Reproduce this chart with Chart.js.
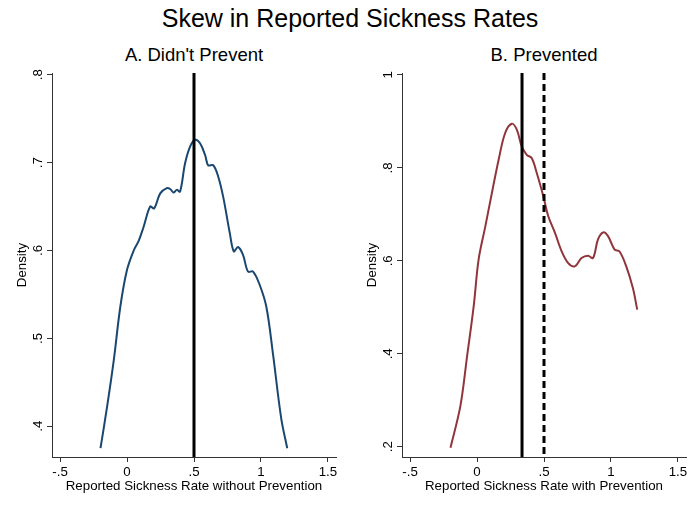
<!DOCTYPE html>
<html>
<head>
<meta charset="utf-8">
<script src="https://cdn.jsdelivr.net/npm/chart.js@4"></script>
<style>
  body { margin: 0; background: #fff; font-family: "Liberation Sans", Arial, sans-serif; }
  #wrap { position: relative; width: 700px; height: 509px; }
  .box { position: absolute; top: 0; width: 350px; height: 509px; }
  .ttl { position: absolute; white-space: nowrap; transform: translateX(-50%); color: #000; }
</style>
</head>
<body>
<div id="wrap">
  <div class="ttl" style="left:350px; top:4px; font-size:25px;">Skew in Reported Sickness Rates</div>
  <div class="ttl" style="left:194px; top:44px; font-size:18.5px;">A. Didn't Prevent</div>
  <div class="ttl" style="left:544px; top:44px; font-size:18.5px;">B. Prevented</div>
  <div class="box" style="left:0"><canvas id="chartA"></canvas></div>
  <div class="box" style="left:350px"><canvas id="chartB"></canvas></div>
</div>
<script>
// x ticks shared by both panels
const xTicks = [-0.5, 0, 0.5, 1, 1.5];

// Panel A: density without prevention
const xA = [-0.198, -0.149, -0.099, -0.05, 0, 0.05, 0.087, 0.124, 0.173, 0.203, 0.248, 0.297, 0.322, 0.347, 0.371, 0.396, 0.433, 0.47, 0.507, 0.545, 0.582, 0.606, 0.644, 0.681, 0.718, 0.767, 0.797, 0.829, 0.866, 0.903, 0.941, 0.99, 1.04, 1.089, 1.151, 1.196];
const yA = [0.375, 0.422, 0.475, 0.536, 0.578, 0.6, 0.611, 0.627, 0.65, 0.648, 0.665, 0.671, 0.67, 0.666, 0.669, 0.667, 0.699, 0.718, 0.726, 0.722, 0.709, 0.697, 0.697, 0.684, 0.661, 0.62, 0.599, 0.604, 0.595, 0.576, 0.576, 0.561, 0.536, 0.483, 0.409, 0.375];
const yTicksA = [0.4, 0.5, 0.6, 0.7, 0.8];
const linesA = [0.5];

// Panel B: density with prevention
const xB = [-0.198, -0.124, -0.074, -0.025, 0.012, 0.062, 0.111, 0.161, 0.21, 0.26, 0.297, 0.334, 0.371, 0.408, 0.446, 0.495, 0.532, 0.582, 0.631, 0.681, 0.73, 0.78, 0.829, 0.866, 0.903, 0.941, 0.978, 1.027, 1.064, 1.114, 1.163, 1.196];
const yB = [0.198, 0.288, 0.395, 0.502, 0.603, 0.674, 0.746, 0.817, 0.875, 0.895, 0.882, 0.846, 0.828, 0.821, 0.789, 0.739, 0.696, 0.66, 0.621, 0.595, 0.588, 0.606, 0.611, 0.606, 0.646, 0.661, 0.653, 0.624, 0.62, 0.588, 0.542, 0.495];
const yTicksB = [0.2, 0.4, 0.6, 0.8, 1];
const linesB = [0.336];
const dashedB = [0.5];

// Stata style numbers: .5 instead of 0.5
function stataNum(v) {
    return String(+v.toFixed(2)).replace(/^0\./, '.').replace(/^-0\./, '-.');
}

// vertical reference lines
const refLines = {
    id: 'refLines',
    afterDatasetsDraw(chart, args, opts) {
        const ctx = chart.ctx;
        const area = chart.chartArea;
        const xs = chart.scales.x;
        ctx.save();
        ctx.strokeStyle = '#000';
        ctx.lineWidth = 3;
        (opts.solid || []).forEach(v => {
            const px = xs.getPixelForValue(v);
            ctx.setLineDash([]);
            ctx.beginPath(); ctx.moveTo(px, area.top); ctx.lineTo(px, area.bottom); ctx.stroke();
        });
        (opts.dashed || []).forEach(v => {
            const px = xs.getPixelForValue(v);
            ctx.setLineDash([7, 4]);
            ctx.beginPath(); ctx.moveTo(px, area.top); ctx.lineTo(px, area.bottom); ctx.stroke();
        });
        ctx.restore();
    }
};

function panel(id, xs, ys, color, yMin, yMax, yTicks, xTitle, solid, dashed) {
    const font = { family: '"Liberation Sans", Arial, sans-serif', size: 13.3 };
    new Chart(document.getElementById(id), {
        type: 'line',
        data: {
            datasets: [{
                data: xs.map((x, i) => ({ x: x, y: ys[i] })),
                borderColor: color,
                borderWidth: 2,
                pointRadius: 0,
                tension: 0.35,
                fill: false
            }]
        },
        options: {
            responsive: true,
            maintainAspectRatio: false,
            animation: false,
            layout: { padding: { top: 73, right: 14, bottom: 0, left: 0 } },
            plugins: {
                legend: { display: false },
                tooltip: { enabled: false },
                refLines: { solid: solid, dashed: dashed }
            },
            scales: {
                x: {
                    type: 'linear',
                    min: -0.56,
                    max: 1.56,
                    afterBuildTicks: s => { s.ticks = xTicks.map(v => ({ value: v })); },
                    afterFit: s => { s.height = 52; },
                    grid: { drawOnChartArea: false, tickLength: 5, tickColor: '#333' },
                    border: { color: '#333', width: 1 },
                    ticks: { color: '#000', font: font, padding: 2, maxRotation: 0, callback: v => stataNum(v) },
                    title: { display: true, text: xTitle, color: '#000', font: font, padding: { top: 0, bottom: 15 } }
                },
                y: {
                    min: yMin,
                    max: yMax,
                    afterBuildTicks: s => { s.ticks = yTicks.map(v => ({ value: v })); },
                    afterFit: s => { s.width = 52; },
                    grid: { drawOnChartArea: false, tickLength: 5, tickColor: '#333' },
                    border: { color: '#333', width: 1 },
                    ticks: { color: '#000', font: font, padding: 3, minRotation: 90, maxRotation: 90, crossAlign: 'center', callback: v => stataNum(v) },
                    title: { display: true, text: 'Density', color: '#000', font: font, padding: { top: 14, bottom: 0 } }
                }
            }
        },
        plugins: [refLines]
    });
}

panel('chartA', xA, yA, '#1a476f', 0.365, 0.802, yTicksA, 'Reported Sickness Rate without Prevention', linesA, []);
panel('chartB', xB, yB, '#90353b', 0.178, 1.004, yTicksB, 'Reported Sickness Rate with Prevention', linesB, dashedB);
</script>
</body>
</html>
